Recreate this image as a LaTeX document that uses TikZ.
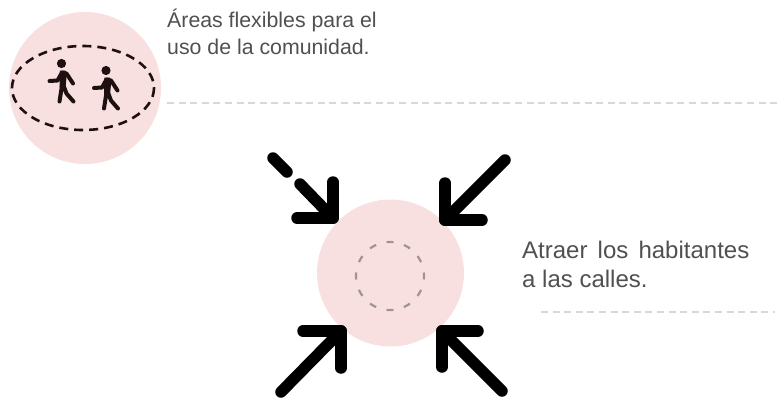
\documentclass[tikz,border=0pt]{standalone}
\usepackage{fontspec}
\setmainfont{Liberation Sans}
\definecolor{blush}{HTML}{F8E0E1}
\definecolor{txt}{HTML}{505050}
\definecolor{guide}{HTML}{D8D8D8}
\definecolor{ink}{HTML}{1E0F10}
\definecolor{softdash}{HTML}{9E9495}
\tikzset{
  arrowline/.style={line width=11.5pt,line cap=round,line join=round,black},
  guideline/.style={guide,line width=2pt,dash pattern=on 7pt off 4.6pt},
  label/.style={anchor=north west,inner sep=0pt,text=txt,align=left},
  walker/.pic={
    \fill[ink] (0,0) circle (4.6pt);
    \fill[ink] (-1.5,7) -- (4,7) -- (5,14) -- (4,24) -- (-2,24) -- cycle;
    \draw[ink,line width=4pt,line cap=round,line join=round]
      (-12,17.5) -- (-4,17) -- (0.5,9) -- (5,10) -- (11.5,20)
      (0.5,22) -- (-2,38)
      (2,22) -- (5,30) -- (12,38);
  }
}
\begin{document}
\begin{tikzpicture}[x=1pt,y=-1pt]
\useasboundingbox (0,0) rectangle (780,405);
\node[circle,fill=blush,minimum size=152pt,inner sep=0pt] (left) at (85,88) {};
\node[circle,fill=blush,minimum size=147pt,inner sep=0pt] (mid) at (390.5,273) {};
\draw[ink,line width=2.6pt,dash pattern=on 9pt off 6pt] (83,88) ellipse [x radius=71,y radius=42];
\draw[softdash,line width=2.2pt,dash pattern=on 7pt off 10.8pt,dash phase=3.5pt] (390,276) circle (34);
\pic at (61.5,63.5) {walker};
\pic at (106,70.5) {walker};
% arrows
\draw[arrowline] (273,158) -- (287,172);
\draw[arrowline] (300,184) -- (333,218);
\draw[arrowline] (333,182) -- (333,218) -- (297,218);
\draw[arrowline] (505,160) -- (445,220);
\draw[arrowline] (445,183) -- (445,220) -- (482,220);
\draw[arrowline] (281,392) -- (341,331);
\draw[arrowline] (303,331) -- (341,331) -- (341,368);
\draw[arrowline] (502,391) -- (442,331);
\draw[arrowline] (478,331) -- (442,331) -- (442,367);
% labels
\node[label,font=\fontsize{21.3pt}{27.5pt}\selectfont] (t1) at (167,8.5) {Áreas flexibles para el\\uso de la comunidad.};
\node[label,font=\fontsize{24pt}{29pt}\selectfont] (t2) at (522,241) {Atraer\hspace{3.5pt} los\hspace{3.5pt} habitantes\\a las calles.};
\coordinate (g1a) at (167,102.5);
\coordinate (g1b) at (780,102.5);
\coordinate (g2a) at (541,311.5);
\coordinate (g2b) at (775,311.5);
\draw[guideline] (g1a) -- (g1b);
\draw[guideline] (g2a) -- (g2b);
\end{tikzpicture}
\end{document}
